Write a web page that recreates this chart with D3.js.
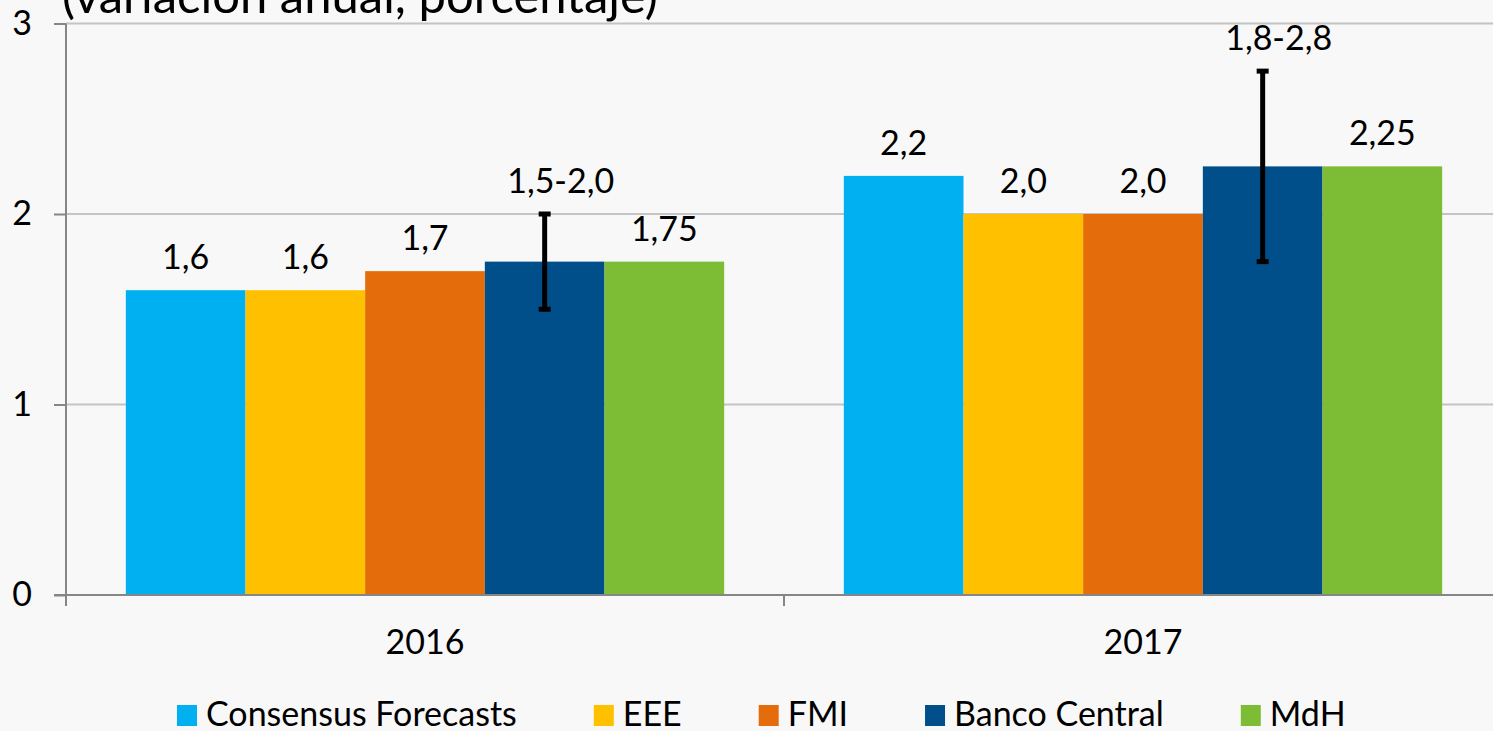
<!DOCTYPE html>
<html>
<head>
<meta charset="utf-8">
<script src="https://cdn.jsdelivr.net/npm/d3@7"></script>
<style>
  html, body { margin: 0; padding: 0; background: #f8f8f8; overflow: hidden; }
  svg { display: block; font-family: Lato, "Noto Sans", sans-serif; }
</style>
</head>
<body>
<svg id="chart" width="1493" height="731"></svg>
<script>
// Données du graphique
var categories = ["2016", "2017"];
var series = ["Consensus Forecasts", "EEE", "FMI", "Banco Central", "MdH"];
var seriesColors = ["#00b0f0", "#ffc000", "#e46c0a", "#004f8a", "#7dbd35"];
var values2016 = [1.6, 1.6, 1.7, 1.75, 1.75];
var values2017 = [2.2, 2.0, 2.0, 2.25, 2.25];
var labels2016 = ["1,6", "1,6", "1,7", "1,5-2,0", "1,75"];
var labels2017 = ["2,2", "2,0", "2,0", "1,8-2,8", "2,25"];
// Rango del Banco Central (barras de error)
var rangeSeries = "Banco Central";
var rangeLow = [1.5, 1.75];
var rangeHigh = [2.0, 2.75];
var yTicks = [0, 1, 2, 3];
var title = "(variación anual, porcentaje)";

var valuesByCat = [values2016, values2017];
var labelsByCat = [labels2016, labels2017];

var svg = d3.select("#chart");
var fontSize = 34;

// Échelles
var x0 = d3.scaleBand().domain(categories).range([66, 1502]).paddingInner(0).paddingOuter(0);
var x1 = d3.scaleBand().domain(series).range([0, x0.bandwidth()]).paddingInner(0).paddingOuter(0.5);
var y = d3.scaleLinear().domain([0, 3]).range([595, 23.5]);
var color = d3.scaleOrdinal().domain(series).range(seriesColors);

// Titre (coupé en haut)
svg.append("text")
    .attr("x", 62)
    .attr("y", 13)
    .attr("font-size", 49)
    .attr("fill", "#000")
    .text(title);

// Grille
svg.append("g")
    .selectAll("line")
    .data(yTicks.filter(function(d) { return d > 0; }))
    .enter().append("line")
    .attr("x1", 66).attr("x2", 1502)
    .attr("y1", function(d) { return y(d); })
    .attr("y2", function(d) { return y(d); })
    .attr("stroke", "#c4c4c4")
    .attr("stroke-width", 2);

// Axe Y
var yAxis = svg.append("g")
    .attr("transform", "translate(66,0)")
    .call(d3.axisLeft(y).tickValues(yTicks).tickSize(12).tickPadding(22).tickFormat(d3.format("d")));
yAxis.select(".domain").remove();
yAxis.selectAll(".tick line").attr("stroke", "#868686").attr("stroke-width", 2);
yAxis.selectAll(".tick text")
    .attr("font-size", fontSize)
    .attr("font-family", "Lato")
    .attr("fill", "#000");
svg.append("line")
    .attr("x1", 66).attr("x2", 66)
    .attr("y1", y(3)).attr("y2", y(0) + 11)
    .attr("stroke", "#868686").attr("stroke-width", 2);

// Barres
var groups = svg.append("g")
    .selectAll("g")
    .data(categories)
    .enter().append("g")
    .attr("transform", function(d) { return "translate(" + x0(d) + ",0)"; });

groups.selectAll("rect")
    .data(function(d, i) {
        return series.map(function(s, j) {
            return { serie: s, value: valuesByCat[i][j], label: labelsByCat[i][j], cat: i };
        });
    })
    .enter().append("rect")
    .attr("x", function(d) { return x1(d.serie); })
    .attr("width", x1.bandwidth())
    .attr("y", function(d) { return y(d.value); })
    .attr("height", function(d) { return y(0) - y(d.value); })
    .attr("fill", function(d) { return color(d.serie); });

// Barres d'erreur
groups.each(function(c, i) {
    var g = d3.select(this);
    var cx = x1(rangeSeries) + x1.bandwidth() / 2;
    g.append("line")
        .attr("x1", cx).attr("x2", cx)
        .attr("y1", y(rangeLow[i])).attr("y2", y(rangeHigh[i]))
        .attr("stroke", "#000").attr("stroke-width", 5);
    [rangeLow[i], rangeHigh[i]].forEach(function(v) {
        g.append("line")
            .attr("x1", cx - 6).attr("x2", cx + 6)
            .attr("y1", y(v)).attr("y2", y(v))
            .attr("stroke", "#000").attr("stroke-width", 5);
    });
});

// Étiquettes de données
groups.selectAll("text.lbl")
    .data(function(d, i) {
        return series.map(function(s, j) {
            var isRange = s === rangeSeries;
            return {
                serie: s,
                top: isRange ? rangeHigh[i] : valuesByCat[i][j],
                label: labelsByCat[i][j],
                range: isRange
            };
        });
    })
    .enter().append("text")
    .attr("class", "lbl")
    .attr("x", function(d) { return x1(d.serie) + x1.bandwidth() / 2 + (d.range ? 16 : 0); })
    .attr("y", function(d) { return y(d.top) - 21; })
    .attr("text-anchor", "middle")
    .attr("font-size", fontSize)
    .attr("fill", "#000")
    .text(function(d) { return d.label; });

// Axe X
svg.append("line")
    .attr("x1", 54).attr("x2", 1502)
    .attr("y1", y(0)).attr("y2", y(0))
    .attr("stroke", "#868686").attr("stroke-width", 2);
svg.append("g")
    .selectAll("line")
    .data(categories.slice(1))
    .enter().append("line")
    .attr("x1", function(d) { return x0(d); })
    .attr("x2", function(d) { return x0(d); })
    .attr("y1", y(0)).attr("y2", y(0) + 11)
    .attr("stroke", "#868686").attr("stroke-width", 2);
svg.append("g")
    .selectAll("text")
    .data(categories)
    .enter().append("text")
    .attr("x", function(d) { return x0(d) + x0.bandwidth() / 2; })
    .attr("y", 654)
    .attr("text-anchor", "middle")
    .attr("font-size", fontSize)
    .attr("fill", "#000")
    .text(function(d) { return d; });

// Légende
var legend = svg.append("g").attr("class", "legend");
var lx = 177;
series.forEach(function(s) {
    legend.append("rect")
        .attr("x", lx).attr("y", 705)
        .attr("width", 20).attr("height", 21)
        .attr("fill", color(s));
    var t = legend.append("text")
        .attr("x", lx + 29).attr("y", 726)
        .attr("font-size", fontSize)
        .attr("fill", "#000")
        .text(s);
    lx += 29 + t.node().getComputedTextLength() + 77;
});
</script>
</body>
</html>
